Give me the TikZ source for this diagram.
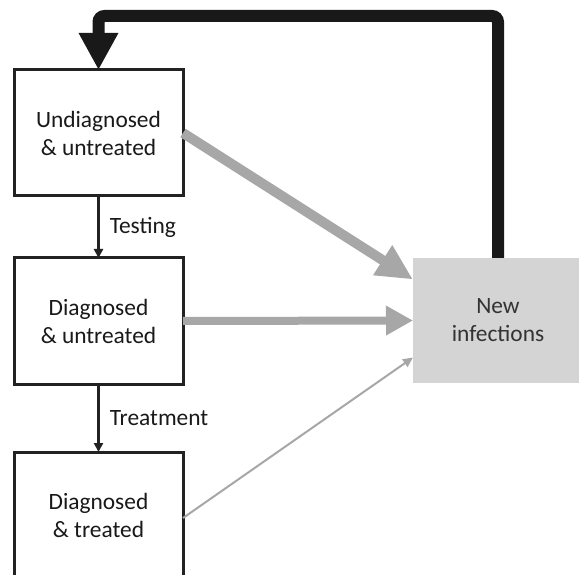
\documentclass[tikz,border=0pt]{standalone}
\usepackage{fontspec}
\setmainfont{Carlito}
\usetikzlibrary{arrows.meta,calc}
\definecolor{boxline}{HTML}{222222}
\definecolor{flowgray}{HTML}{A7A7A7}
\definecolor{nifill}{HTML}{D4D4D4}
\begin{document}
\begin{tikzpicture}[x=1pt,y=-1pt,
  every node/.style={font=\fontsize{23.4}{28}\selectfont, text=black!90},
  statebox/.style={draw=boxline, line width=3pt, fill=white, minimum width=169pt, minimum height=126pt, align=center, inner sep=0pt, outer sep=0pt},
  nibox/.style={fill=nifill, minimum width=170pt, minimum height=125pt, align=center, inner sep=0pt, outer sep=0pt, text=black!80},
  thickflow/.style={draw=flowgray, line width=10pt, -{Triangle[length=36pt,width=33pt]}},
  midflow/.style={draw=flowgray, line width=8pt, -{Triangle[length=27pt,width=28pt]}},
  thinflow/.style={draw=flowgray, line width=2pt, -{Triangle[length=10pt,width=9pt]}},
  stepflow/.style={draw=boxline, line width=2.5pt, -{Triangle[length=9pt,width=9pt]}},
  feedback/.style={draw=black!90, line width=12pt, rounded corners=6pt, -{Triangle[length=37pt,width=37pt]}},
  steplabel/.style={right, xshift=10pt, inner sep=0pt}
]
\useasboundingbox (0,0) rectangle (579,575);
\clip (0,0) rectangle (579,575);
\node[statebox] (u) at (98.5,133) {Undiagnosed\\\& untreated};
\node[statebox] (d) at (98.5,321) {Diagnosed\\\& untreated};
\node[statebox] (t) at (98.5,515) {Diagnosed\\\& treated};
\node[nibox] (ni) at (498,320.5) {New\\infections};
\coordinate (top) at (300,16);
\draw[thickflow] (u.east) -- ($(ni.west)+(0,-41)$);
\draw[midflow] (d.east) -- (ni.west);
\draw[thinflow] ([yshift=-3pt]t.east) -- ($(ni.west)+(0,37)$);
\draw[stepflow] (u.south) -- node[steplabel] {Testing} (d.north);
\draw[stepflow] (d.south) -- node[steplabel] {Treatment} (t.north);
\draw[feedback] (ni.north) |- (top) -| (u.north);
\end{tikzpicture}
\end{document}
